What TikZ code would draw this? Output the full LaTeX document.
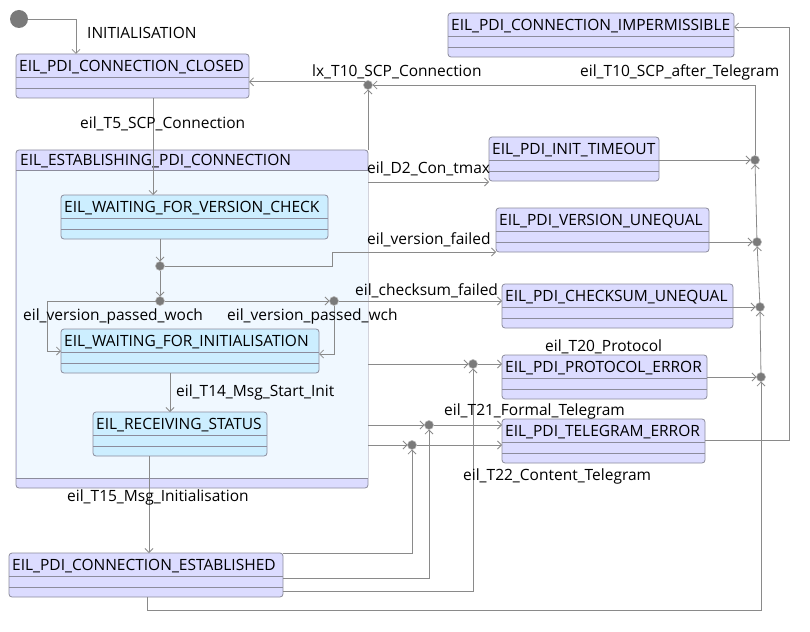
\documentclass[tikz,border=0pt]{standalone}
\usepackage{fontspec}
\setmainfont{Open Sans}
\usetikzlibrary{arrows.meta}
\definecolor{lav}{HTML}{DCDCFF}
\definecolor{cyanbox}{HTML}{CCEEFF}
\definecolor{compbody}{HTML}{F0F8FF}
\definecolor{bord}{HTML}{8C8C9C}
\definecolor{lin}{HTML}{8A8A8A}
\definecolor{jun}{HTML}{7A7A7A}
\newcommand\stbox[6]{%
  \node[sbox, fill=#5, minimum width={#4-#2}, anchor=north west] (#1) at (#2,#3) {};
  \draw[sepl] ([yshift=-23pt]#1.north west) -- ([yshift=-23pt]#1.north east);
  \draw[sepl] ([yshift=-34pt]#1.north west) -- ([yshift=-34pt]#1.north east);
  \node[ttl] at ([xshift=3pt,yshift=-13pt]#1.north west) {#6};
}
\tikzset{
  sbox/.style={draw=bord, rounded corners=3pt, minimum height=44pt, inner sep=0pt, outer sep=0pt, line width=0.8pt},
  sepl/.style={draw=bord, line width=0.8pt},
  ttl/.style={anchor=west, inner sep=0pt, font=\fontsize{15.5}{17}\selectfont},
  lbl/.style={anchor=west, inner sep=0pt, font=\fontsize{15.5}{17}\selectfont},
  jn/.style={circle, fill=jun, draw=lin!60, line width=0.6pt, minimum size=9pt, inner sep=0pt, outer sep=0pt},
  tr/.style={draw=lin, line width=0.8pt, -{Straight Barb[length=4pt,width=8pt]}},
  ln/.style={draw=lin, line width=0.8pt}
}
\begin{document}
\begin{tikzpicture}[x=1pt,y=-1pt]
\useasboundingbox (0,0) rectangle (810,631);
% initial
\node[circle, fill=jun, minimum size=18pt, inner sep=0pt] (init) at (19,19) {};
% composite
\node[draw=bord, fill=lav, rounded corners=3pt, minimum width=352pt, minimum height=338pt, anchor=north west, inner sep=0pt, outer sep=0pt, line width=0.8pt] (EST) at (16,150) {};
\fill[compbody] ([xshift=0.5pt,yshift=-20pt]EST.north west) rectangle ([xshift=-0.5pt,yshift=10pt]EST.south east);
\draw[sepl] ([yshift=-20pt]EST.north west) -- ([yshift=-20pt]EST.north east);
\draw[sepl] ([yshift=10pt]EST.south west) -- ([yshift=10pt]EST.south east);
\node[ttl] at ([xshift=4pt,yshift=-11.5pt]EST.north west) {EIL\_ESTABLISHING\_PDI\_CONNECTION};
% states
\stbox{CLOSED}{16}{54}{249}{lav}{EIL\_PDI\_CONNECTION\_CLOSED}
\stbox{IMP}{448}{13}{734}{lav}{EIL\_PDI\_CONNECTION\_IMPERMISSIBLE}
\stbox{VC}{61}{195}{328}{cyanbox}{EIL\_WAITING\_FOR\_VERSION\_CHECK}
\stbox{WI}{61}{329}{319}{cyanbox}{EIL\_WAITING\_FOR\_INITIALISATION}
\stbox{RS}{93}{412}{267}{cyanbox}{EIL\_RECEIVING\_STATUS}
\stbox{ESTD}{9}{553}{283}{lav}{EIL\_PDI\_CONNECTION\_ESTABLISHED}
\stbox{IT}{489}{137}{659}{lav}{EIL\_PDI\_INIT\_TIMEOUT}
\stbox{VU}{496}{208}{709}{lav}{EIL\_PDI\_VERSION\_UNEQUAL}
\stbox{CU}{502}{284}{733}{lav}{EIL\_PDI\_CHECKSUM\_UNEQUAL}
\stbox{PE}{502}{355}{707}{lav}{EIL\_PDI\_PROTOCOL\_ERROR}
\stbox{TE}{502}{419}{705}{lav}{EIL\_PDI\_TELEGRAM\_ERROR}
% junctions
\node[jn] (jlx) at (368,85) {};
\node[jn] (j1) at (160,266) {};
\node[jn] (j2) at (160,301) {};
\node[jn] (j3) at (334,301) {};
\node[jn] (jp) at (473,364) {};
\node[jn] (jf) at (429,425) {};
\node[jn] (jc) at (412,445) {};
\node[jn] (jt) at (755,160) {};
\node[jn] (jv) at (757,242) {};
\node[jn] (jcs) at (760,307) {};
\node[jn] (jr) at (761,377) {};
% transitions
\draw[tr] (init.east) -| ([xshift=60pt]CLOSED.north west);
\draw[tr] ([xshift=137pt]CLOSED.south west) -- ([xshift=92pt]VC.north west);
\draw[tr] (j1 |- VC.south) -- (j1);
\draw[tr] (j1) -- (332,266) -- (332,252) -- (VU.west |- 0,252);
\draw[tr] (j1) -- (j2);
\draw[tr] (j2) -- (47,301) |- (WI.west |- 0,351);
\draw[tr] (j2) -- (j3);
\draw[tr] (j3) |- (WI.east |- 0,354);
\draw[tr] (j3) -- (CU.west |- j3);
\draw[tr] ([xshift=109pt]WI.south west) -- ([xshift=77pt]RS.north west);
\draw[tr] ([xshift=56pt]RS.south west) -- ([xshift=140pt]ESTD.north west);
\draw[tr] (EST.north east) -- (jlx);
\draw[tr] (jlx.north west) -- (CLOSED.east |- jlx.north west);
\draw[tr] (jt) -- (755,85) -- (jlx);
\draw[tr] (EST.east |- 0,182) -- (IT.west |- 0,182);
\draw[tr] (IT.east |- jt) -- (jt);
\draw[tr] (VU.east |- jv) -- (jv);
\draw[tr] (jv) -- (jt);
\draw[tr] (CU.east |- jcs) -- (jcs);
\draw[tr] (jcs) -- (jv);
\draw[tr] (PE.east |- jr) -- (jr);
\draw[tr] (jr) -- (jcs);
\draw[tr] (TE.east |- 0,440) -- (789,440) |- (IMP.east |- 0,27);
\draw[tr] (EST.east |- jp) -- (jp);
\draw[tr] (jp) -- (PE.west |- jp);
\draw[tr] (EST.east |- jf) -- (jf);
\draw[tr] (jf) -- (TE.west |- jf);
\draw[tr] (EST.east |- jc) -- (jc);
\draw[tr] (jc) -- (TE.west |- jc);
\draw[tr] (ESTD.north east) -| (jc);
\draw[tr] (ESTD.east |- 0,578) -| (jf);
\draw[tr] (ESTD.east |- 0,591) -| (jp);
\draw[tr] ([xshift=138pt]ESTD.south west) -- (147,610) -| (jr);
% labels
\node[lbl] at (87,33) {INITIALISATION};
\node[lbl] at (80,124) {eil\_T5\_SCP\_Connection};
\node[lbl] at (312,72) {lx\_T10\_SCP\_Connection};
\node[lbl] at (580,72) {eil\_T10\_SCP\_after\_Telegram};
\node[lbl] at (367,169) {eil\_D2\_Con\_tmax};
\node[lbl] at (367,240) {eil\_version\_failed};
\node[lbl] at (355,291) {eil\_checksum\_failed};
\node[lbl] at (23,316) {eil\_version\_passed\_woch};
\node[lbl] at (227,316) {eil\_version\_passed\_wch};
\node[lbl] at (545,347) {eil\_T20\_Protocol};
\node[lbl] at (176,392) {eil\_T14\_Msg\_Start\_Init};
\node[lbl] at (444,411) {eil\_T21\_Formal\_Telegram};
\node[lbl] at (463,476) {eil\_T22\_Content\_Telegram};
\node[lbl] at (67,497) {eil\_T15\_Msg\_Initialisation};
\end{tikzpicture}
\end{document}
